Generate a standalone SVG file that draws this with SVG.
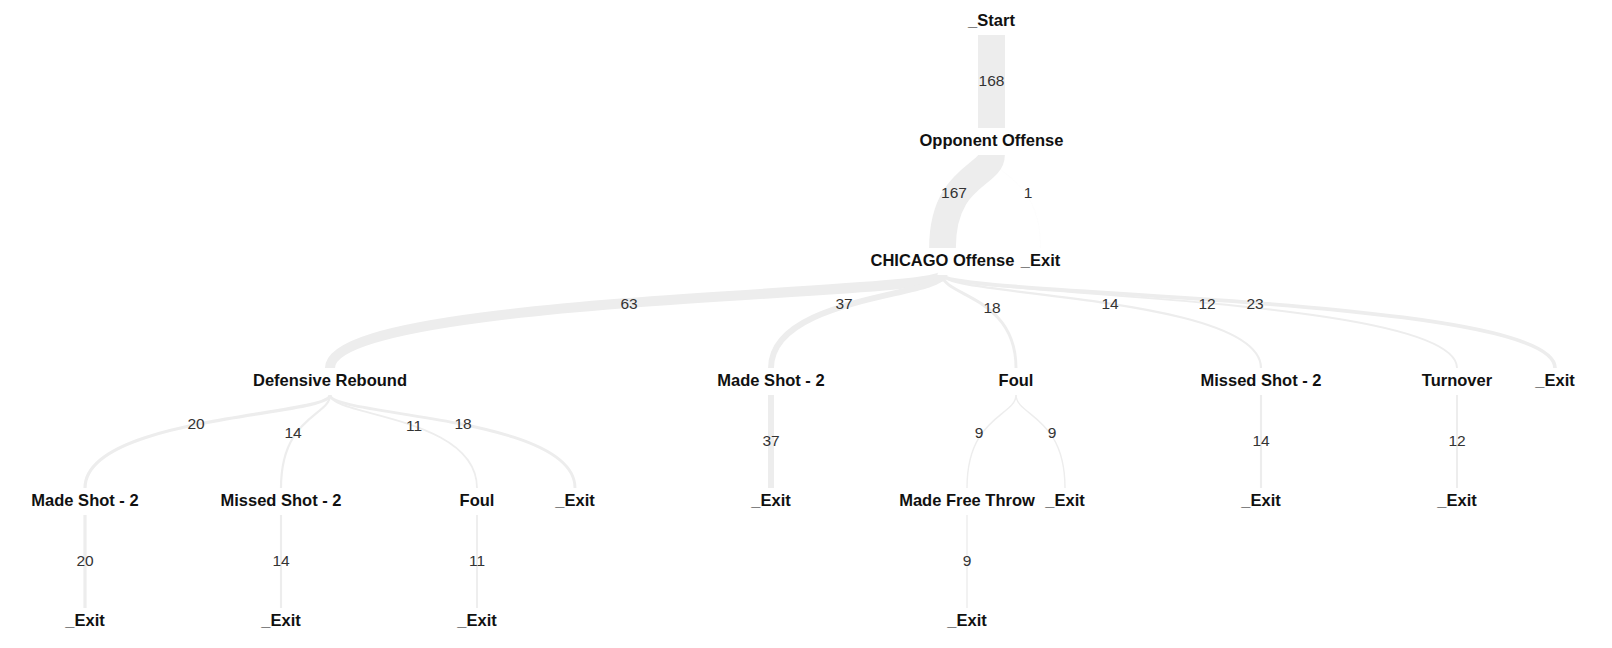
<svg xmlns="http://www.w3.org/2000/svg" width="1612" height="648" viewBox="0 0 1612 648">
<style>
.bg{fill:#ffffff}
.link{fill:none;stroke:#ededed;stroke-linecap:butt}
.lbl{font-family:"Liberation Sans",Arial,sans-serif;font-size:15.5px;fill:#333333;text-anchor:middle}
.node text{font-family:"Liberation Sans",Arial,sans-serif;font-size:16.5px;font-weight:bold;fill:#111111;text-anchor:middle}
</style>
<rect class="bg" x="0" y="0" width="1612" height="648"/>
<g id="connectors">
<path class="link" stroke-width="26.9" d="M991.5,35 L991.5,128"/>
<path class="link" stroke-width="26.7" d="M991.5,155 C991.5,176 942.5,176 942.5,248"/>
<path class="link" stroke-width="0.2" stroke-opacity="0.6" d="M991.5,155 C991.5,176 1040.5,176 1040.5,248"/>
<path class="link" stroke-width="10.1" d="M942.5,275 C942.5,296 330,296 330,368"/>
<path class="link" stroke-width="5.9" d="M942.5,275 C942.5,296 771,296 771,368"/>
<path class="link" stroke-width="2.9" d="M942.5,275 C942.5,296 1016,296 1016,368"/>
<path class="link" stroke-width="2.2" d="M942.5,275 C942.5,296 1261,296 1261,368"/>
<path class="link" stroke-width="1.9" d="M942.5,275 C942.5,296 1457,296 1457,368"/>
<path class="link" stroke-width="3.7" d="M942.5,275 C942.5,296 1555,296 1555,368"/>
<path class="link" stroke-width="3.2" d="M330,395 C330,416 85,416 85,488"/>
<path class="link" stroke-width="2.2" d="M330,395 C330,416 281,416 281,488"/>
<path class="link" stroke-width="1.8" d="M330,395 C330,416 477,416 477,488"/>
<path class="link" stroke-width="2.9" d="M330,395 C330,416 575,416 575,488"/>
<path class="link" stroke-width="5.9" d="M771,395 L771,488"/>
<path class="link" stroke-width="1.4" d="M1016,395 C1016,416 967,416 967,488"/>
<path class="link" stroke-width="1.4" d="M1016,395 C1016,416 1065,416 1065,488"/>
<path class="link" stroke-width="2.2" d="M1261,395 L1261,488"/>
<path class="link" stroke-width="1.9" d="M1457,395 L1457,488"/>
<path class="link" stroke-width="3.2" d="M85,515 L85,608"/>
<path class="link" stroke-width="2.2" d="M281,515 L281,608"/>
<path class="link" stroke-width="1.8" d="M477,515 L477,608"/>
<path class="link" stroke-width="1.4" d="M967,515 L967,608"/>
<text class="lbl" x="991.5" y="85.5">168</text>
<text class="lbl" x="954" y="197.5">167</text>
<text class="lbl" x="1028" y="197.5">1</text>
<text class="lbl" x="629" y="308.5">63</text>
<text class="lbl" x="844" y="308.5">37</text>
<text class="lbl" x="992" y="312.5">18</text>
<text class="lbl" x="1110" y="308.5">14</text>
<text class="lbl" x="1207" y="308.5">12</text>
<text class="lbl" x="1255" y="308.5">23</text>
<text class="lbl" x="196" y="428.5">20</text>
<text class="lbl" x="293" y="437.5">14</text>
<text class="lbl" x="414" y="430.5">11</text>
<text class="lbl" x="463" y="428.5">18</text>
<text class="lbl" x="771" y="445.5">37</text>
<text class="lbl" x="979" y="437.5">9</text>
<text class="lbl" x="1052" y="437.5">9</text>
<text class="lbl" x="1261" y="445.5">14</text>
<text class="lbl" x="1457" y="445.5">12</text>
<text class="lbl" x="85" y="565.5">20</text>
<text class="lbl" x="281" y="565.5">14</text>
<text class="lbl" x="477" y="565.5">11</text>
<text class="lbl" x="967" y="565.5">9</text>
</g>
<g id="n_start" class="node"><text x="991.5" y="26">_Start</text></g>
<g id="n_opp" class="node"><text x="991.5" y="146">Opponent Offense</text></g>
<g id="n_chi" class="node"><text x="942.5" y="266">CHICAGO Offense</text></g>
<g id="n_exit_opp" class="node"><text x="1040.5" y="266">_Exit</text></g>
<g id="n_dreb" class="node"><text x="330" y="386">Defensive Rebound</text></g>
<g id="n_made2" class="node"><text x="771" y="386">Made Shot - 2</text></g>
<g id="n_foul" class="node"><text x="1016" y="386">Foul</text></g>
<g id="n_miss2" class="node"><text x="1261" y="386">Missed Shot - 2</text></g>
<g id="n_to" class="node"><text x="1457" y="386">Turnover</text></g>
<g id="n_exit_chi" class="node"><text x="1555" y="386">_Exit</text></g>
<g id="n_dreb_made2" class="node"><text x="85" y="506">Made Shot - 2</text></g>
<g id="n_dreb_miss2" class="node"><text x="281" y="506">Missed Shot - 2</text></g>
<g id="n_dreb_foul" class="node"><text x="477" y="506">Foul</text></g>
<g id="n_dreb_exit" class="node"><text x="575" y="506">_Exit</text></g>
<g id="n_made2_exit" class="node"><text x="771" y="506">_Exit</text></g>
<g id="n_foul_mft" class="node"><text x="967" y="506">Made Free Throw</text></g>
<g id="n_foul_exit" class="node"><text x="1065" y="506">_Exit</text></g>
<g id="n_miss2_exit" class="node"><text x="1261" y="506">_Exit</text></g>
<g id="n_to_exit" class="node"><text x="1457" y="506">_Exit</text></g>
<g id="n_dm_exit" class="node"><text x="85" y="626">_Exit</text></g>
<g id="n_dmiss_exit" class="node"><text x="281" y="626">_Exit</text></g>
<g id="n_dfoul_exit" class="node"><text x="477" y="626">_Exit</text></g>
<g id="n_mft_exit" class="node"><text x="967" y="626">_Exit</text></g>
</svg>
